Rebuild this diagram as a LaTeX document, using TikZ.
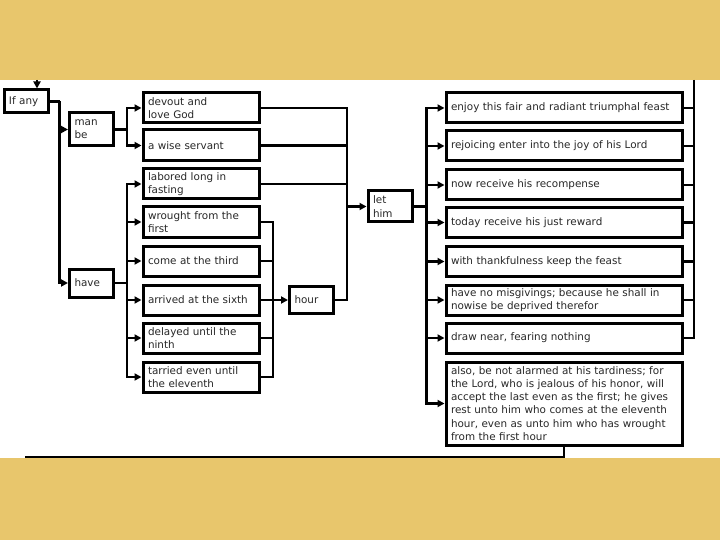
\documentclass[tikz,border=0pt]{standalone}
\usepackage{fontspec}
\setmainfont{DejaVu Sans}
\usetikzlibrary{arrows.meta}
\definecolor{gold}{RGB}{232,198,108}
\definecolor{txt}{RGB}{40,40,40}
\begin{document}
\begin{tikzpicture}[x=1pt,y=-1pt,
  bx/.style={draw=black, line width=3pt, fill=white, inner xsep=5pt, inner ysep=1pt,
    align=left, text=txt, font=\fontsize{10.4}{13.2}\selectfont},
  small/.style={bx, text width=34pt},
  lbox/.style={bx, text width=106pt, minimum height=30pt},
  rbox/.style={bx, text width=226pt, minimum height=30pt},
  conn/.style={line width=2.6pt, draw=black},
  arr/.style={conn, -{Triangle[length=7pt,width=7pt]}}]
% background
\fill[gold] (0,0) rectangle (720,540);
\fill[white] (0,80) rectangle (720,458);
\useasboundingbox (0,0) rectangle (720,540);
% left column
\node[small, minimum height=23pt] (ifany) at (26,101.5) {If any};
\node[small, minimum height=33pt] (manbe) at (91.5,129.5) {man\\be};
\node[small, minimum height=28pt] (have) at (91.5,283) {have};
\node[lbox] (devout) at (201,108) {devout and\\love God};
\node[lbox, minimum height=31pt] (wise) at (201,145.5) {a wise servant};
\node[lbox] (labored) at (201,184) {labored long in\\fasting};
\node[lbox] (wrought) at (201,222) {wrought from the\\first};
\node[lbox] (come) at (201,261) {come at the third};
\node[lbox] (arrived) at (201,300) {arrived at the sixth};
\node[lbox] (delayed) at (201,338) {delayed until the\\ninth};
\node[lbox] (tarried) at (201,377) {tarried even until\\the eleventh};
\node[small, minimum height=27pt] (hour) at (311.5,300) {hour};
\node[small, minimum height=31pt] (lethim) at (390,206.5) {let\\him};
% right column
\node[rbox] (enjoy) at (564,108) {enjoy this fair and radiant triumphal feast};
\node[rbox] (rejoice) at (564,146) {rejoicing enter into the joy of his Lord};
\node[rbox] (now) at (564,185) {now receive his recompense};
\node[rbox] (today) at (564,222.5) {today receive his just reward};
\node[rbox] (thank) at (564,261.5) {with thankfulness keep the feast};
\node[rbox] (nomis) at (564,300) {have no misgivings; because he shall in\\nowise be deprived therefor};
\node[rbox] (near) at (564,338) {draw near, fearing nothing};
\node[rbox, minimum height=83pt] (also) at (564,403.5) {also, be not alarmed at his tardiness; for\\the Lord, who is jealous of his honor, will\\accept the last even as the first; he gives\\rest unto him who comes at the eleventh\\hour, even as unto him who has wrought\\from the first hour};
% coordinates
\coordinate (t0) at (37,80);
\coordinate (v1) at (347,206.5);
\coordinate (v2) at (273,300);
\coordinate (v3) at (694,80);
\coordinate (bl) at (25,457);
% connectors
\draw[arr] (t0) -- (t0 |- ifany.north);
\draw[conn] (ifany.east) -- ++(10,0) coordinate (v5);
\draw[arr] (v5) |- (manbe.west);
\draw[arr] (v5) |- (have.west);
\draw[conn] (manbe.east) -- ++(12,0) coordinate (v6);
\foreach \b in {devout,wise} \draw[arr] (v6) |- (\b.west);
\draw[conn] (have.east) -- ++(12,0) coordinate (v7);
\foreach \b in {labored,wrought,come,arrived,delayed,tarried} \draw[arr] (v7) |- (\b.west);
\foreach \b in {devout,wise,labored,hour} \draw[conn] (\b.east) -| (v1);
\draw[arr] (v1) -- (lethim.west);
\foreach \b in {wrought,come,delayed,tarried} \draw[conn] (\b.east) -| (v2);
\draw[arr] (arrived.east) -- (hour.west);
\draw[conn] (lethim.east) -- ++(13,0) coordinate (v4);
\foreach \b in {enjoy,rejoice,now,today,thank,nomis,near,also} \draw[arr] (v4) |- (\b.west);
\draw[conn] (v3) |- (near.east);
\foreach \b in {enjoy,rejoice,now,today,thank,nomis} \draw[conn] (\b.east) -- (\b.east -| v3);
\draw[conn, line width=2pt] (also.south) |- (bl);
\end{tikzpicture}
\end{document}
